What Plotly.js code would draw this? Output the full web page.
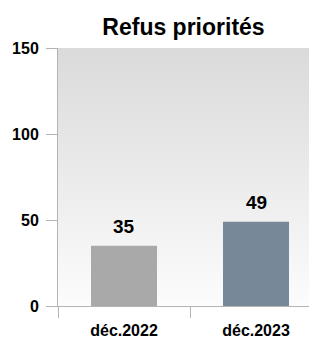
<!DOCTYPE html>
<html>
<head>
<meta charset="utf-8">
<script src="https://cdn.plot.ly/plotly-3.0.1.min.js"></script>
<style>html,body{margin:0;padding:0;background:#fff;}#chart{width:309px;height:343px;}</style>
</head>
<body>
<div id="chart"></div>
<script>
const chartTitle = "Refus priorités";
const categories = ["déc.2022", "déc.2023"];
const values = [35, 49];
const barColors = ["#a9a9a9", "#778899"];
const yTickVals = [0, 50, 100, 150];

const FONT = "Liberation Sans, Arial, sans-serif";

const gradSvg = '<svg xmlns="http://www.w3.org/2000/svg" width="10" height="100" preserveAspectRatio="none">' +
  '<defs><linearGradient id="g" x1="0" y1="0" x2="0" y2="1">' +
  '<stop offset="0" stop-color="#dadada"/><stop offset="1" stop-color="#fcfcfc"/></linearGradient></defs>' +
  '<rect width="10" height="100" fill="url(#g)"/></svg>';

const data = [{
  type: "bar",
  x: categories,
  y: values,
  marker: {color: barColors},
  width: 0.5,
  hoverinfo: "none"
}];

const annotations = categories.map((c, i) => ({
  x: c, y: values[i], xref: "x", yref: "y",
  text: "<b>" + values[i] + "</b>",
  showarrow: false, yanchor: "bottom", yshift: 7,
  font: {family: FONT, size: 19, color: "#000"}
}));

const layout = {
  width: 309, height: 343,
  margin: {l: 58, r: 0, t: 48, b: 37, pad: 0},
  paper_bgcolor: "#ffffff",
  plot_bgcolor: "rgba(0,0,0,0)",
  showlegend: false,
  title: {
    text: "<b>" + chartTitle + "</b>",
    font: {family: FONT, size: 23, color: "#000"},
    x: 0.5, xref: "paper", xanchor: "center",
    y: 1 - 27 / 343, yref: "container", yanchor: "middle"
  },
  xaxis: {
    type: "category",
    range: [-0.5, 1.4015],
    showline: true, linecolor: "#b3b3b3", linewidth: 1,
    ticks: "outside", tickson: "boundaries", ticklen: 11, tickcolor: "#b3b3b3", tickwidth: 1,
    ticklabelstandoff: 10,
    tickfont: {family: FONT, size: 16, color: "#000", weight: "bold"},
    showgrid: false, zeroline: false, fixedrange: true
  },
  yaxis: {
    range: [0, 150],
    tickvals: yTickVals,
    ticktext: yTickVals.map(String),
    showline: true, linecolor: "#b3b3b3", linewidth: 1,
    ticks: "outside", ticklen: 11, tickcolor: "#b3b3b3", tickwidth: 1,
    ticklabelstandoff: 4,
    tickfont: {family: FONT, size: 16, color: "#000", weight: "bold"},
    showgrid: false, zeroline: false, fixedrange: true
  },
  images: [{
    source: "data:image/svg+xml;charset=utf-8," + encodeURIComponent(gradSvg),
    xref: "paper", yref: "paper", x: 0, y: 1, sizex: 1, sizey: 1,
    sizing: "stretch", xanchor: "left", yanchor: "top", layer: "below"
  }],
  annotations: annotations
};

Plotly.newPlot("chart", data, layout, {displayModeBar: false, staticPlot: true});
</script>
</body>
</html>
